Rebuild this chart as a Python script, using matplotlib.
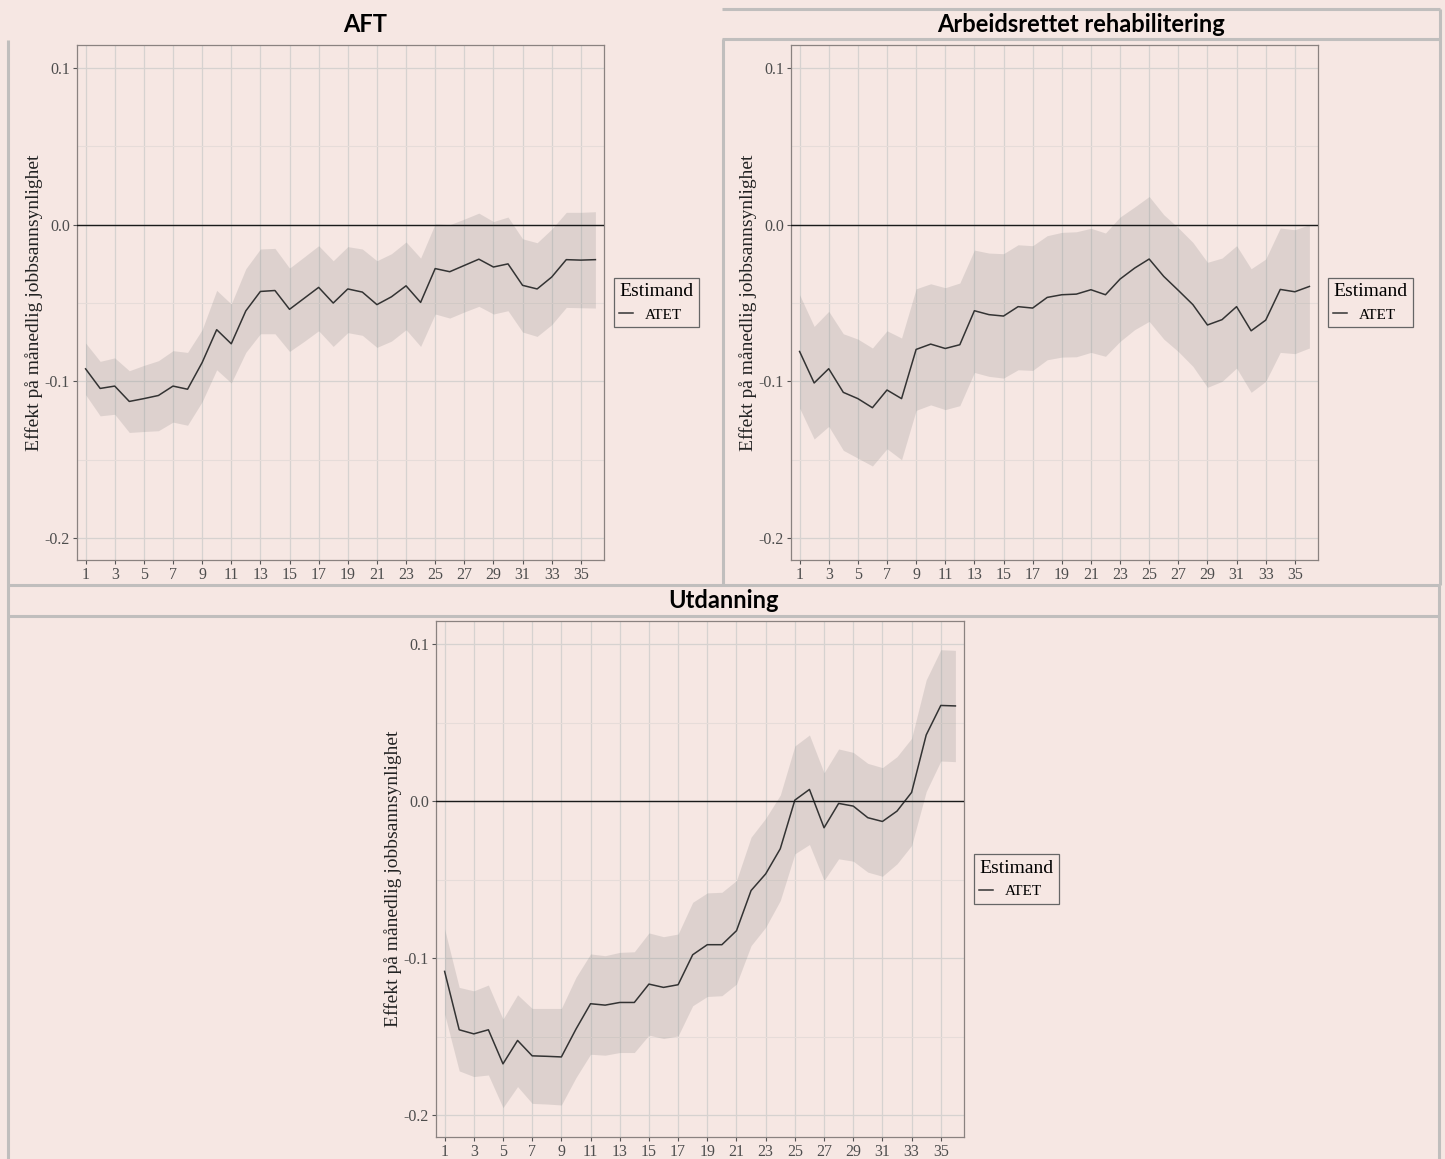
import numpy as np
import matplotlib
matplotlib.use("Agg")
import matplotlib.pyplot as plt
from matplotlib.lines import Line2D

plt.rcParams['font.family'] = ['Liberation Serif', 'DejaVu Serif']

# Data
months = np.arange(1, 37)

aft_est = [-0.092, -0.1045, -0.103, -0.1128, -0.111, -0.109, -0.103, -0.105, -0.088, -0.067,
           -0.076, -0.055, -0.0426, -0.042, -0.054, -0.047, -0.040, -0.050, -0.041, -0.043,
           -0.051, -0.046, -0.039, -0.0496, -0.028, -0.030, -0.026, -0.022, -0.027, -0.025,
           -0.0387, -0.041, -0.0334, -0.0223, -0.0226, -0.0223]
aft_hi = [-0.0755, -0.0872, -0.085, -0.0932, -0.0898, -0.0868, -0.0804, -0.0815, -0.067, -0.0419,
          -0.0506, -0.0281, -0.0155, -0.0151, -0.0277, -0.0206, -0.0134, -0.023, -0.014, -0.0155,
          -0.023, -0.0185, -0.011, -0.0213, 0.0006, 0.0, 0.0036, 0.0074, 0.002, 0.0049,
          -0.009, -0.0115, -0.0028, 0.0079, 0.0079, 0.0083]
aft_lo = [-0.1085, -0.122, -0.121, -0.1326, -0.132, -0.1315, -0.126, -0.128, -0.113, -0.0926,
          -0.101, -0.0815, -0.0696, -0.0696, -0.0809, -0.0745, -0.0677, -0.0777, -0.0689, -0.0706,
          -0.0783, -0.0743, -0.067, -0.0777, -0.057, -0.0596, -0.0557, -0.0521, -0.057, -0.0549,
          -0.0685, -0.0713, -0.0638, -0.0528, -0.053, -0.0532]

rehab_est = [-0.0809, -0.101, -0.0919, -0.107, -0.111, -0.1168, -0.1055, -0.111, -0.0796, -0.0762,
             -0.079, -0.0766, -0.0549, -0.0574, -0.0583, -0.0523, -0.0532, -0.0464, -0.0447, -0.0443,
             -0.0415, -0.0447, -0.0347, -0.0277, -0.0219, -0.033, -0.0419, -0.051, -0.064, -0.0606,
             -0.0523, -0.0677, -0.0609, -0.0413, -0.0428, -0.0394]
rehab_hi = [-0.0447, -0.0649, -0.0553, -0.0696, -0.073, -0.0787, -0.0677, -0.0723, -0.0409, -0.0377,
            -0.0402, -0.0372, -0.0162, -0.0181, -0.0185, -0.0128, -0.0134, -0.007, -0.0049, -0.0045,
            -0.0023, -0.0053, 0.0049, 0.0113, 0.018, 0.0064, -0.002, -0.0113, -0.024, -0.0213,
            -0.0134, -0.0281, -0.0219, -0.0021, -0.0032, 0.0]
rehab_lo = [-0.117, -0.1368, -0.1287, -0.144, -0.149, -0.154, -0.143, -0.150, -0.1185, -0.115,
            -0.118, -0.1155, -0.0943, -0.0968, -0.0979, -0.0926, -0.093, -0.0862, -0.0845, -0.0843,
            -0.0815, -0.084, -0.0745, -0.067, -0.0617, -0.073, -0.081, -0.0904, -0.1038, -0.1,
            -0.0915, -0.107, -0.1, -0.0815, -0.0823, -0.0787]

utd_est = [-0.1085, -0.1457, -0.1483, -0.1457, -0.1674, -0.1525, -0.1623, -0.1626, -0.163, -0.1453,
           -0.1291, -0.130, -0.1283, -0.1283, -0.1166, -0.1187, -0.117, -0.0979, -0.0915, -0.0915,
           -0.0826, -0.057, -0.0464, -0.0304, 0.0006, 0.0074, -0.017, -0.0015, -0.0032, -0.0106,
           -0.013, -0.0064, 0.0055, 0.0421, 0.0609, 0.0606]
utd_hi = [-0.0815, -0.1187, -0.1209, -0.1172, -0.1389, -0.1234, -0.1321, -0.1321, -0.1321, -0.1123,
          -0.0974, -0.0985, -0.0964, -0.096, -0.084, -0.0864, -0.0847, -0.0645, -0.0585, -0.0581,
          -0.0506, -0.023, -0.011, 0.0038, 0.0351, 0.0421, 0.018, 0.0332, 0.031, 0.024,
          0.0213, 0.0283, 0.040, 0.0772, 0.0964, 0.096]
utd_lo = [-0.1357, -0.1719, -0.1755, -0.1745, -0.1953, -0.1819, -0.1926, -0.193, -0.1936, -0.1762,
          -0.1613, -0.1619, -0.1602, -0.1602, -0.1491, -0.1513, -0.1496, -0.1304, -0.1245, -0.124,
          -0.1166, -0.0921, -0.0804, -0.0634, -0.0336, -0.0277, -0.0506, -0.0368, -0.0383, -0.0453,
          -0.0479, -0.040, -0.0283, 0.006, 0.0255, 0.0251]

titles = ["AFT", "Arbeidsrettet rehabilitering", "Utdanning"]
ylab = "Effekt på månedlig jobbsannsynlighet"
xticks = np.arange(1, 37, 2)
yticks = [0.1, 0.0, -0.1, -0.2]
yminor = [0.05, -0.05, -0.15]

BG = "#F6E7E3"
W, H = 1445, 1159

fig = plt.figure(figsize=(W / 100, H / 100), dpi=100)
fig.patch.set_facecolor(BG)

def px_axes(x0, y0, x1, y1):
    return fig.add_axes([x0 / W, 1 - y1 / H, (x1 - x0) / W, (y1 - y0) / H])

def panel(ax, est, lo, hi):
    ax.set_facecolor(BG)
    ax.fill_between(months, lo, hi, color="#7d7d7d", alpha=0.2, lw=0, zorder=2)
    ax.plot(months, est, color="#333333", lw=1.1, zorder=3)
    ax.axhline(0, color="#1a1a1a", lw=1.0, zorder=3)
    ax.set_xlim(0.41, 36.59)
    ax.set_ylim(-0.214, 0.1147)
    ax.set_xticks(xticks)
    ax.set_yticks(yticks)
    ax.set_yticks(yminor, minor=True)
    ax.set_yticklabels([f"{v:.1f}" for v in yticks])
    ax.grid(True, which="major", color="#d6d2d0", lw=0.9, zorder=1)
    ax.grid(True, which="minor", axis="y", color="#e6dcd9", lw=0.8, zorder=1)
    ax.tick_params(which="minor", length=0)
    ax.tick_params(which="major", length=3, width=0.8, color="#555555",
                   labelcolor="#4d4d4d", labelsize=11.5, pad=2)
    for s in ax.spines.values():
        s.set_color("#8a8280")
        s.set_linewidth(0.9)
    ax.set_ylabel(ylab, fontsize=14, color="#222222", labelpad=1)
    h = [Line2D([], [], color="#333333", lw=1.1)]
    leg = ax.legend(h, ["ATET"], title="Estimand", loc="center left",
                    bbox_to_anchor=(1 + 10 / 527, 0.5), borderaxespad=0,
                    fancybox=False, framealpha=1,
                    facecolor=BG, edgecolor="#666666", handlelength=0.9,
                    handletextpad=0.8, borderpad=0.35, prop={"size": 11})
    leg.get_title().set_fontsize(14)
    leg.get_frame().set_linewidth(0.9)
    leg._legend_box.align = "left"

ax1 = px_axes(77, 45, 604, 560)
ax2 = px_axes(791, 45, 1318, 560)
ax3 = px_axes(436, 621, 964, 1137)
panel(ax1, aft_est, aft_lo, aft_hi)
panel(ax2, rehab_est, rehab_lo, rehab_hi)
panel(ax3, utd_est, utd_lo, utd_hi)

# Panel titles
tkw = dict(ha="center", va="center", fontsize=17, fontweight="bold",
           family=["Lato", "DejaVu Sans"], color="black")
fig.text(365 / W, 1 - 25 / H, titles[0], **tkw)
fig.text(1081 / W, 1 - 25 / H, titles[1], **tkw)
fig.text(723 / W, 1 - 601 / H, titles[2], **tkw)

# Grey frame lines around the panels
fc = "#c0bebd"
def fline(xs, ys):
    fig.add_artist(Line2D([x / W for x in xs], [1 - y / H for y in ys],
                          color=fc, lw=2.2, solid_capstyle="butt"))

fline([722, 1440], [9, 9])
fline([722, 1440], [39, 39])
fline([723, 723], [39, 585])
fline([1440, 1440], [9, 585])
fline([8, 8], [40, 1159])
fline([8, 1440], [585, 585])
fline([8, 1440], [616, 616])
fline([1439, 1439], [585, 1159])

fig.savefig("out.png", dpi=100, facecolor=BG)
